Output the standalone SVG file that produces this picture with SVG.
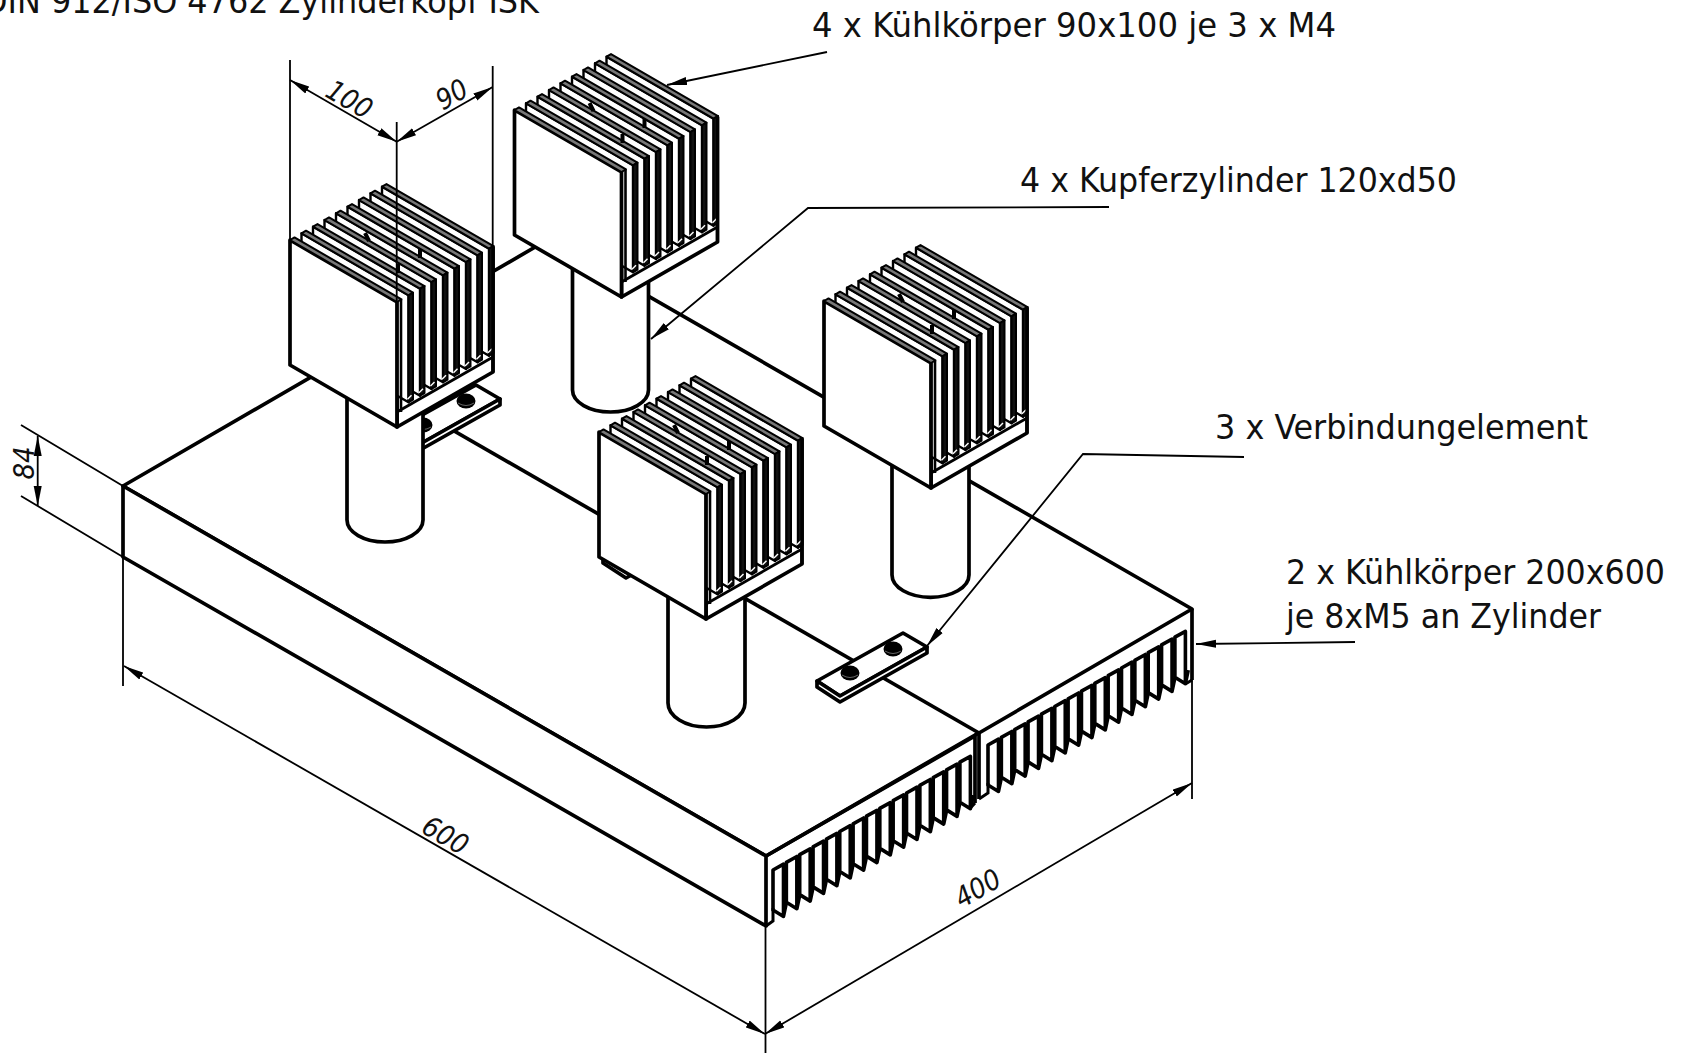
<svg xmlns="http://www.w3.org/2000/svg" width="1689" height="1053" viewBox="0 0 1689 1053">
<style>
text{font-family:"DejaVu Sans Condensed","DejaVu Sans",sans-serif;fill:#111}
.lbl{font-size:34px}
.dim{font-size:28px;font-style:italic;text-anchor:middle}
.thin{fill:none;stroke:#000;stroke-width:1.8}
.arrow{marker-end:url(#ah)}
.both{marker-start:url(#ahs);marker-end:url(#ah)}
.thick{fill:#fff;stroke:#000;stroke-width:3.7;stroke-linejoin:round}
.tooth{fill:#fff;stroke:#000;stroke-width:3.6;stroke-linejoin:round}
.fin{fill:#fff;stroke:#000;stroke-width:2.4;stroke-linejoin:round}
.strip{fill:#777;stroke:#000;stroke-width:2;stroke-linejoin:round}
.side{fill:#111;stroke:#000;stroke-width:2;stroke-linejoin:round}
</style>
<defs>
<marker id="ah" viewBox="0 0 20 9" refX="20" refY="4.5" markerWidth="20" markerHeight="9" markerUnits="userSpaceOnUse" orient="auto"><path d="M0,0.5 L20,4.5 L0,8.5 Z" fill="#000"/></marker>
<marker id="ahs" viewBox="0 0 20 9" refX="0" refY="4.5" markerWidth="20" markerHeight="9" markerUnits="userSpaceOnUse" orient="auto"><path d="M20,0.5 L0,4.5 L20,8.5 Z" fill="#000"/></marker>
<g id="fin">
<polygon class="fin" points="0,0 107,62 107,169 0,107"/>
<polygon class="strip" points="0,0 4.5,-2.6 111.5,59.4 107,62"/>
<polygon class="side" points="107,62 111.5,59.4 111.5,166.4 107,169"/>
<path d="M110,162 l-4,4" stroke="#fff" stroke-width="1.4"/>
</g>
<g id="sink">
<polygon class="thick" points="107,187 203,132 203,7 107,62"/>
<use href="#fin" x="92" y="-53.3"/>
<use href="#fin" x="80.5" y="-46.7"/>
<use href="#fin" x="69" y="-40"/>
<use href="#fin" x="57.5" y="-33.3"/>
<use href="#fin" x="46" y="-26.7"/>
<use href="#fin" x="34.5" y="-20"/>
<use href="#fin" x="23" y="-13.3"/>
<use href="#fin" x="11.5" y="-6.7"/>
<path d="M107,172 L203,117" fill="none" stroke="#000" stroke-width="2.8"/>
<path d="M203,7 V132" fill="none" stroke="#000" stroke-width="3.2"/>
<polygon class="thick" points="0,0 107,62 107,187 0,125"/>
<polygon class="strip" points="0,0 4.5,-2.6 111.5,59.4 107,62"/>
<path d="M107,62 V187 M111,60 V172" fill="none" stroke="#000" stroke-width="2.6"/>
<path d="M75,-7 l4,8 M130,9 l0,9 M108,24 l0,9" fill="none" stroke="#000" stroke-width="4"/>
</g>
<g id="plate">
<polygon class="thick" points="-55,17 31,-31 55,-17 -32,32"/>
<polygon class="thick" points="-55,17 -32,32 55,-17 55,-11 -32,38 -55,23"/>
<ellipse cx="-22" cy="9" rx="9.5" ry="7.5" fill="#000"/>
<ellipse cx="21" cy="-15" rx="9.5" ry="7.5" fill="#000"/>
<path d="M-30,11 q8,5 16,0 M13,-13 q8,5 16,0" fill="none" stroke="#666" stroke-width="1"/>
</g>
<path id="tooth" class="tooth" d="M0,0 L10.5,-5.8 V46.5 L0,40 Z M10.5,46.5 L13.35,33"/>
<g id="row">
<use href="#tooth"/>
<use href="#tooth" x="13.35" y="-7.7"/>
<use href="#tooth" x="26.7" y="-15.4"/>
<use href="#tooth" x="40.05" y="-23.1"/>
<use href="#tooth" x="53.4" y="-30.8"/>
<use href="#tooth" x="66.75" y="-38.5"/>
<use href="#tooth" x="80.1" y="-46.2"/>
<use href="#tooth" x="93.45" y="-53.9"/>
<use href="#tooth" x="106.8" y="-61.6"/>
<use href="#tooth" x="120.15" y="-69.3"/>
<use href="#tooth" x="133.5" y="-77"/>
<use href="#tooth" x="146.85" y="-84.7"/>
<use href="#tooth" x="160.2" y="-92.4"/>
<use href="#tooth" x="173.55" y="-100.1"/>
<use href="#tooth" x="186.9" y="-107.8"/>
</g>
</defs>
<rect width="1689" height="1053" fill="#fff"/>

<g id="base">
<polygon class="thick" points="123,486 549,239 1192,609 979,733 975,735 766,856"/>
<path d="M336,363 L979,733" fill="none" stroke="#000" stroke-width="3.7"/>
<polygon class="thick" points="123,486 766,856 766,926 123,557"/>
<path d="M123,486 V557" fill="none" stroke="#000" stroke-width="2"/>
<path d="M766,856 L975,736 V803 M979,733 V799 M1192,609 V680" fill="none" stroke="#000" stroke-width="3.7"/>
<use href="#row" x="773" y="870"/>
<use href="#row" x="988" y="745"/>
<path d="M766,926 L773,921 V908 M970.4,808 L975,803 M979,799 L988,793 V783 M1185.4,684 L1192,680" fill="none" stroke="#000" stroke-width="3"/>
</g>
<g id="connector-front"><use href="#plate" x="872" y="664"/></g>
<g id="connector-middle"><use href="#plate" x="658" y="540"/></g>
<g id="connector-back"><use href="#plate" x="445" y="416"/></g>

<g id="cooler-back">
<path class="thick" d="M572.5,255 V390 A38,22 0 0 0 648.5,390 V255"/>
<use href="#sink" x="514.5" y="110"/>
</g>
<g id="cooler-left">
<path class="thick" d="M347,380 V520 A38,22 0 0 0 423,520 V380"/>
<use href="#sink" x="290" y="240"/>
</g>
<g id="cooler-right">
<path class="thick" d="M892,450 V575 A38,22 0 0 0 969,575 V450"/>
<use href="#sink" x="824" y="301"/>
</g>
<g id="cooler-front">
<path class="thick" d="M668,590 V703 A38.5,24 0 0 0 745,703 V590"/>
<use href="#sink" x="599" y="432"/>
</g>

<g id="connectors">
<path class="thin" d="M290,60 V240 M396.7,122 V303 M492.7,66 V247"/>
<path class="thin both" d="M290,80 L396.7,141.7"/>
<path class="thin both" d="M492.7,87 L396.7,141.7"/>
<path class="thin" d="M21,425 L123,486 M21,496 L123,557"/>
<path class="thin both" d="M37.7,436 V506"/>
<path class="thin" d="M123,557 V686 M765.5,926 V1053 M1192,680 V799"/>
<path class="thin both" d="M124,666 L765,1034"/>
<path class="thin both" d="M765,1034 L1192,783"/>
<path class="thin arrow" d="M827,52 L667,85"/>
<path class="thin arrow" d="M1109,207 L808,208 L651,339"/>
<path class="thin arrow" d="M1244,457 L1083,454 L927,646"/>
<path class="thin arrow" d="M1355,642 L1196,644"/>
</g>

<g id="labels">
<text class="lbl" x="-17" y="12.5" textLength="556" lengthAdjust="spacingAndGlyphs">DIN 912/ISO 4762 Zylinderkopf ISK</text>
<text class="lbl" x="812" y="37" textLength="524" lengthAdjust="spacingAndGlyphs">4 x Kühlkörper 90x100 je 3 x M4</text>
<text class="lbl" x="1020" y="192" textLength="437" lengthAdjust="spacingAndGlyphs">4 x Kupferzylinder 120xd50</text>
<text class="lbl" x="1215" y="439" textLength="373" lengthAdjust="spacingAndGlyphs">3 x Verbindungelement</text>
<text class="lbl" x="1286" y="584" textLength="379" lengthAdjust="spacingAndGlyphs">2 x Kühlkörper 200x600</text>
<text class="lbl" x="1286" y="628" textLength="315" lengthAdjust="spacingAndGlyphs">je 8xM5 an Zylinder</text>
<text class="dim" transform="translate(349,100) rotate(30)" y="9">100</text>
<text class="dim" transform="translate(452,95) rotate(-30)" y="9">90</text>
<text class="dim" transform="translate(24,463) rotate(-90)" y="10" style="font-size:29px">84</text>
<text class="dim" transform="translate(445,836) rotate(30)" y="9">600</text>
<text class="dim" transform="translate(978,889) rotate(-30)" y="9">400</text>
</g>
</svg>
